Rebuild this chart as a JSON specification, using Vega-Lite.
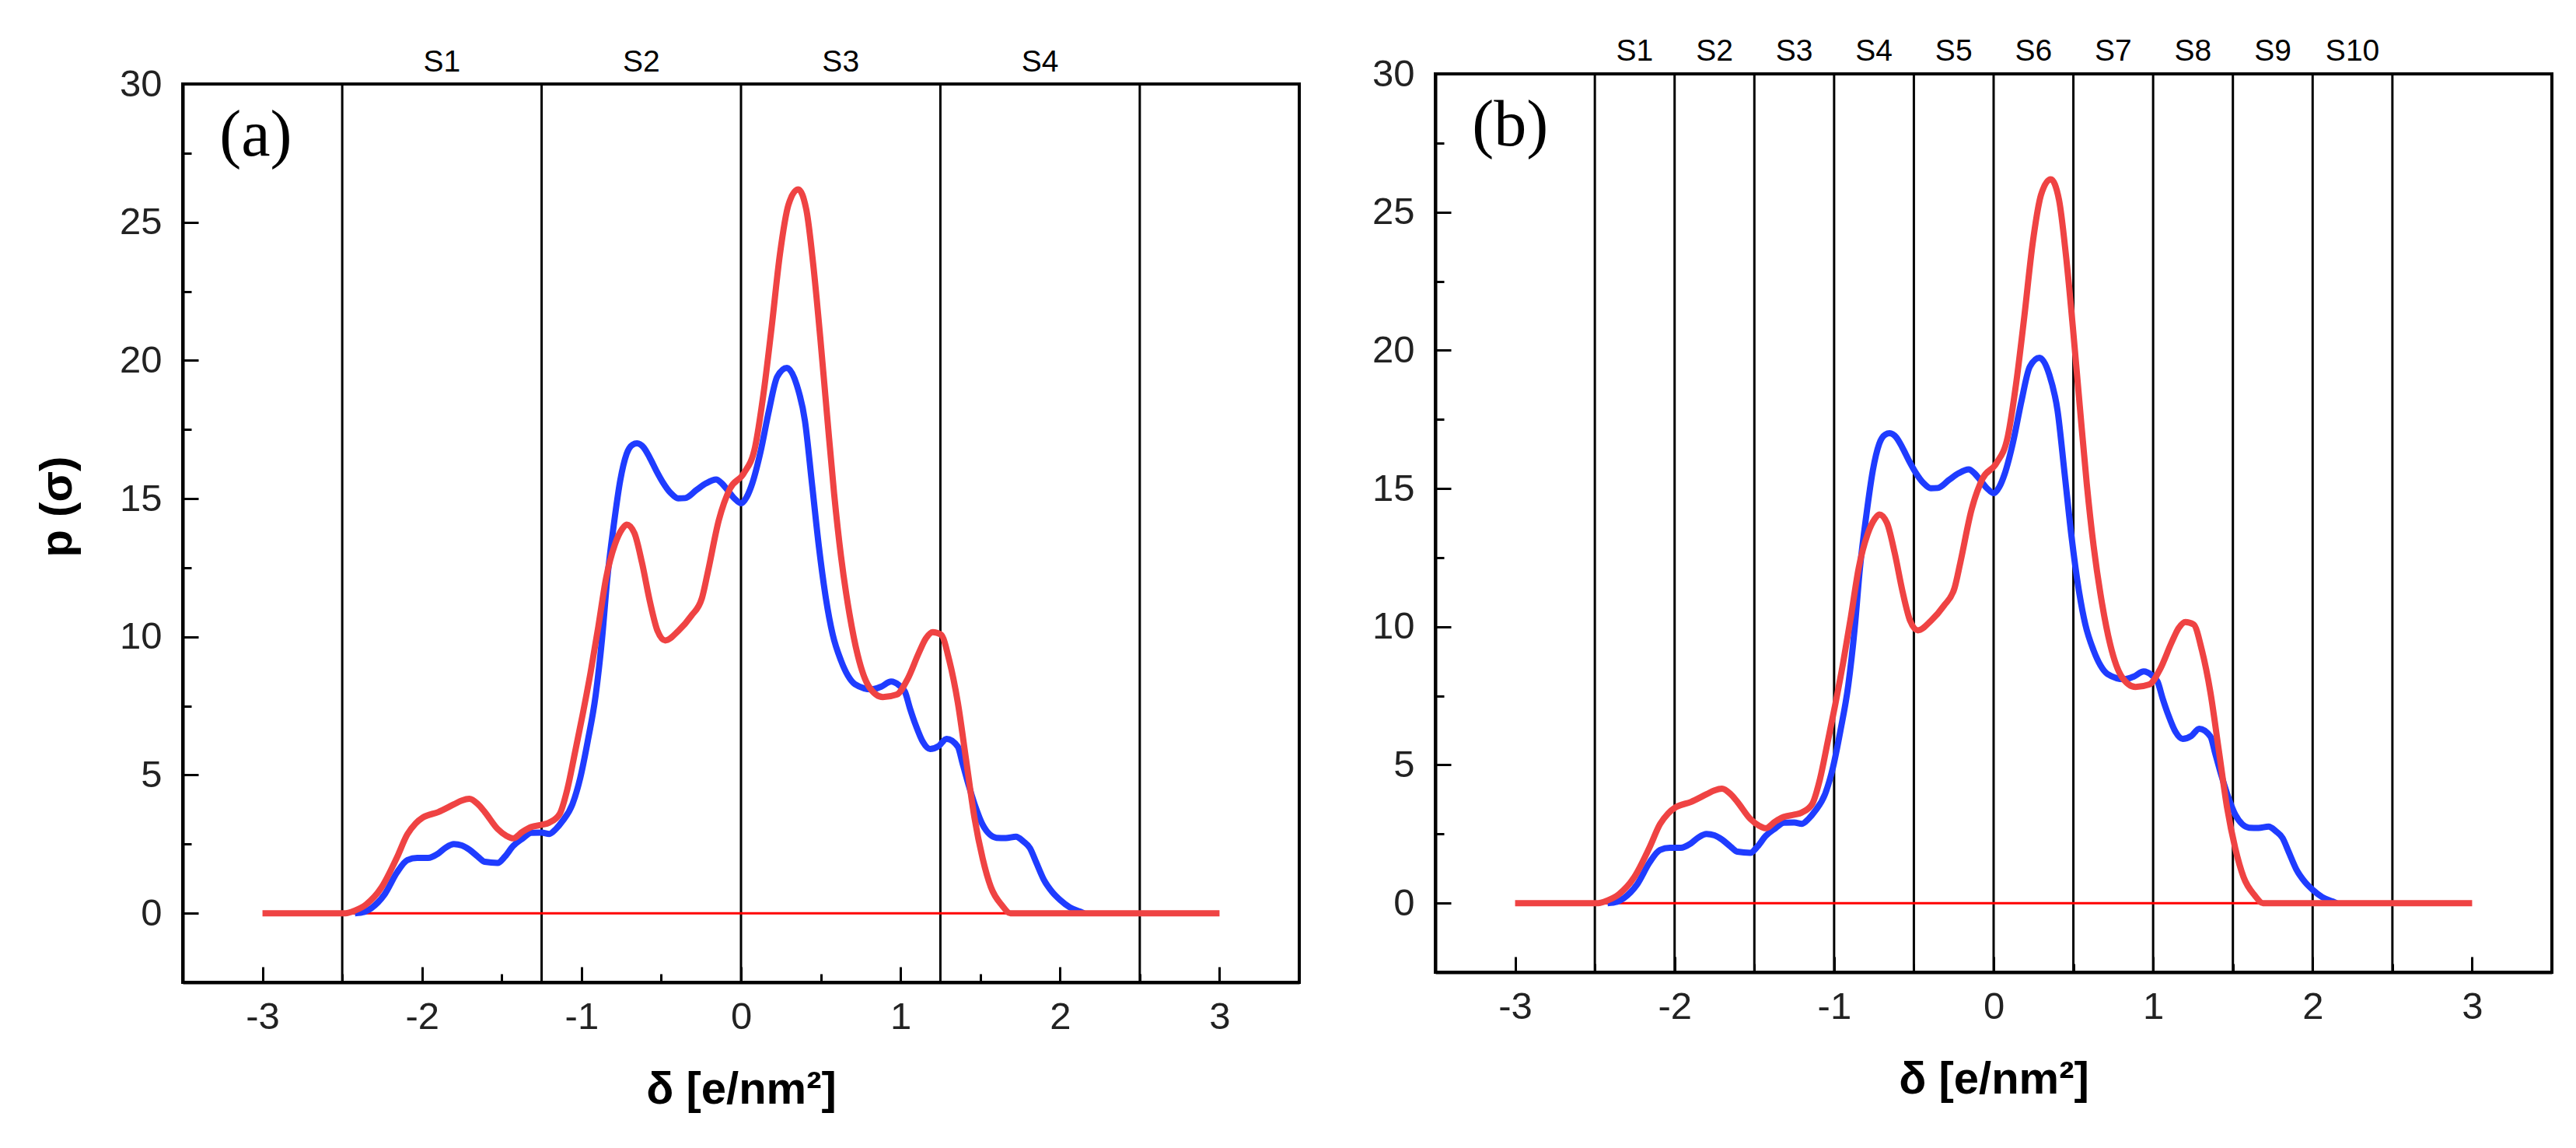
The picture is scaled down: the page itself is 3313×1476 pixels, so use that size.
{
  "$schema": "https://vega.github.io/schema/vega-lite/v6.json",
  "background": "white",
  "padding": {"left": 43, "top": 45, "right": 10, "bottom": 10},
  "spacing": 89,
  "config": {
    "view": {"stroke": "black", "strokeWidth": 4},
    "axis": {
      "grid": false,
      "domainColor": "black",
      "domainWidth": 4,
      "tickColor": "black",
      "tickWidth": 3,
      "labelFont": "Liberation Sans",
      "labelFontSize": 49,
      "labelColor": "#222222",
      "titleFont": "Liberation Sans",
      "titleFontSize": 58,
      "titleFontWeight": "bold",
      "titleColor": "black"
    },
    "text": {"font": "Liberation Sans"}
  },
  "datasets": {
    "blue": [
      {"d": -2.42, "p": 0}, {"d": -2.36, "p": 0.05}, {"d": -2.318, "p": 0.18}, {"d": -2.237, "p": 0.66},
      {"d": -2.156, "p": 1.48}, {"d": -2.092, "p": 1.92}, {"d": -2.03, "p": 2.0}, {"d": -1.962, "p": 2.0},
      {"d": -1.898, "p": 2.16}, {"d": -1.85, "p": 2.38}, {"d": -1.8, "p": 2.5}, {"d": -1.75, "p": 2.45},
      {"d": -1.703, "p": 2.3}, {"d": -1.65, "p": 2.05}, {"d": -1.606, "p": 1.86}, {"d": -1.526, "p": 1.82},
      {"d": -1.48, "p": 2.05}, {"d": -1.429, "p": 2.43}, {"d": -1.37, "p": 2.7}, {"d": -1.315, "p": 2.91},
      {"d": -1.25, "p": 2.92}, {"d": -1.202, "p": 2.87}, {"d": -1.16, "p": 3.05}, {"d": -1.121, "p": 3.32},
      {"d": -1.057, "p": 3.94}, {"d": -1.008, "p": 4.89}, {"d": -0.96, "p": 6.25}, {"d": -0.911, "p": 7.89},
      {"d": -0.871, "p": 9.94}, {"d": -0.838, "p": 12.12}, {"d": -0.798, "p": 14.03}, {"d": -0.757, "p": 15.66},
      {"d": -0.717, "p": 16.62}, {"d": -0.68, "p": 16.95}, {"d": -0.652, "p": 17.0}, {"d": -0.61, "p": 16.85},
      {"d": -0.572, "p": 16.48}, {"d": -0.53, "p": 16.0}, {"d": -0.491, "p": 15.6}, {"d": -0.44, "p": 15.2},
      {"d": -0.394, "p": 15.01}, {"d": -0.35, "p": 15.02}, {"d": -0.278, "p": 15.32}, {"d": -0.22, "p": 15.55},
      {"d": -0.156, "p": 15.69}, {"d": -0.12, "p": 15.55}, {"d": -0.086, "p": 15.32}, {"d": -0.04, "p": 15.0},
      {"d": 0.001, "p": 14.83}, {"d": 0.035, "p": 15.05}, {"d": 0.07, "p": 15.54}, {"d": 0.122, "p": 16.68},
      {"d": 0.175, "p": 18.18}, {"d": 0.227, "p": 19.41}, {"d": 0.288, "p": 19.73}, {"d": 0.349, "p": 19.12},
      {"d": 0.401, "p": 17.81}, {"d": 0.445, "p": 15.54}, {"d": 0.488, "p": 13.28}, {"d": 0.532, "p": 11.4},
      {"d": 0.575, "p": 10.08}, {"d": 0.627, "p": 9.14}, {"d": 0.67, "p": 8.6}, {"d": 0.714, "p": 8.29},
      {"d": 0.819, "p": 8.1}, {"d": 0.88, "p": 8.2}, {"d": 0.941, "p": 8.38}, {"d": 0.99, "p": 8.25},
      {"d": 1.028, "p": 8.01}, {"d": 1.06, "p": 7.4}, {"d": 1.097, "p": 6.78}, {"d": 1.14, "p": 6.2},
      {"d": 1.185, "p": 5.94}, {"d": 1.24, "p": 6.05}, {"d": 1.289, "p": 6.31}, {"d": 1.359, "p": 6.03},
      {"d": 1.39, "p": 5.4}, {"d": 1.428, "p": 4.62}, {"d": 1.47, "p": 3.85}, {"d": 1.515, "p": 3.2},
      {"d": 1.56, "p": 2.85}, {"d": 1.602, "p": 2.73}, {"d": 1.66, "p": 2.72}, {"d": 1.724, "p": 2.77},
      {"d": 1.77, "p": 2.6}, {"d": 1.811, "p": 2.36}, {"d": 1.85, "p": 1.85}, {"d": 1.898, "p": 1.22},
      {"d": 1.95, "p": 0.78}, {"d": 2.003, "p": 0.47}, {"d": 2.06, "p": 0.22}, {"d": 2.125, "p": 0.06},
      {"d": 2.15, "p": 0}
    ],
    "red": [
      {"d": -3, "p": 0}, {"d": -2.48, "p": 0}, {"d": -2.42, "p": 0.1}, {"d": -2.35, "p": 0.32},
      {"d": -2.253, "p": 0.94}, {"d": -2.156, "p": 2.03}, {"d": -2.092, "p": 2.85}, {"d": -2.04, "p": 3.25},
      {"d": -1.995, "p": 3.46}, {"d": -1.898, "p": 3.66}, {"d": -1.8, "p": 3.94}, {"d": -1.75, "p": 4.08},
      {"d": -1.703, "p": 4.14}, {"d": -1.65, "p": 3.95}, {"d": -1.606, "p": 3.66}, {"d": -1.526, "p": 3.05},
      {"d": -1.47, "p": 2.8}, {"d": -1.429, "p": 2.71}, {"d": -1.37, "p": 2.95}, {"d": -1.315, "p": 3.12},
      {"d": -1.25, "p": 3.2}, {"d": -1.202, "p": 3.28}, {"d": -1.137, "p": 3.59}, {"d": -1.089, "p": 4.48},
      {"d": -1.04, "p": 5.84}, {"d": -0.992, "p": 7.21}, {"d": -0.943, "p": 8.71}, {"d": -0.895, "p": 10.35},
      {"d": -0.846, "p": 12.12}, {"d": -0.79, "p": 13.35}, {"d": -0.745, "p": 13.9}, {"d": -0.717, "p": 14.06},
      {"d": -0.669, "p": 13.76}, {"d": -0.62, "p": 12.66}, {"d": -0.572, "p": 11.3}, {"d": -0.523, "p": 10.21},
      {"d": -0.475, "p": 9.87}, {"d": -0.394, "p": 10.21}, {"d": -0.313, "p": 10.75}, {"d": -0.245, "p": 11.4},
      {"d": -0.208, "p": 12.34}, {"d": -0.139, "p": 14.22}, {"d": -0.069, "p": 15.36}, {"d": 0.018, "p": 15.92},
      {"d": 0.088, "p": 16.86}, {"d": 0.14, "p": 18.75}, {"d": 0.192, "p": 21.2}, {"d": 0.244, "p": 23.84},
      {"d": 0.297, "p": 25.62}, {"d": 0.358, "p": 26.19}, {"d": 0.41, "p": 25.44}, {"d": 0.453, "p": 23.46},
      {"d": 0.497, "p": 20.82}, {"d": 0.54, "p": 17.99}, {"d": 0.584, "p": 15.17}, {"d": 0.627, "p": 12.91},
      {"d": 0.68, "p": 10.83}, {"d": 0.732, "p": 9.33}, {"d": 0.802, "p": 8.2}, {"d": 0.889, "p": 7.82},
      {"d": 0.976, "p": 7.91}, {"d": 1.045, "p": 8.48}, {"d": 1.115, "p": 9.42}, {"d": 1.16, "p": 9.95},
      {"d": 1.202, "p": 10.17}, {"d": 1.254, "p": 10.08}, {"d": 1.306, "p": 9.14}, {"d": 1.359, "p": 7.63},
      {"d": 1.411, "p": 5.56}, {"d": 1.463, "p": 3.48}, {"d": 1.515, "p": 1.98}, {"d": 1.567, "p": 0.94},
      {"d": 1.637, "p": 0.28}, {"d": 1.689, "p": 0}, {"d": 3, "p": 0}
    ],
    "sepA": [{"x": -2.5}, {"x": -1.25}, {"x": 0}, {"x": 1.25}, {"x": 2.5}],
    "labA": [
      {"x": -1.875, "label": "S1"}, {"x": -0.625, "label": "S2"},
      {"x": 0.625, "label": "S3"}, {"x": 1.875, "label": "S4"}
    ],
    "sepB": [
      {"x": -2.5}, {"x": -2}, {"x": -1.5}, {"x": -1}, {"x": -0.5}, {"x": 0},
      {"x": 0.5}, {"x": 1}, {"x": 1.5}, {"x": 2}, {"x": 2.5}
    ],
    "labB": [
      {"x": -2.25, "label": "S1"}, {"x": -1.75, "label": "S2"}, {"x": -1.25, "label": "S3"},
      {"x": -0.75, "label": "S4"}, {"x": -0.25, "label": "S5"}, {"x": 0.25, "label": "S6"},
      {"x": 0.75, "label": "S7"}, {"x": 1.25, "label": "S8"}, {"x": 1.75, "label": "S9"},
      {"x": 2.25, "label": "S10"}
    ],
    "base": [{"x1": -2.5, "x2": 2.5, "y": 0}],
    "tagA": [{"x": -3.27, "y": 27.4, "label": "(a)"}],
    "tagB": [{"x": -3.27, "y": 27.4, "label": "(b)"}]
  },
  "hconcat": [
    {
      "vconcat": [
        {
          "width": 1436,
          "height": 1,
          "view": {"stroke": null},
          "data": {"values": []},
          "mark": "point"
        },
        {
          "width": 1436,
          "height": 1155,
          "resolve": {"axis": {"x": "independent", "y": "independent"}},
          "layer": [
            {
              "data": {"name": "sepA"},
              "mark": {"type": "rule", "color": "black", "strokeWidth": 3},
              "encoding": {
                "x": {"field": "x", "type": "quantitative",
                  "scale": {"domain": [-3.5, 3.5], "nice": false, "zero": false},
                  "axis": {"orient": "bottom", "values": [-2.5, -1.5, -0.5, 0.5, 1.5, 2.5], "labels": false, "domain": false, "tickSize": -11, "title": null}}
              }
            },
            {
              "data": {"name": "base"},
              "mark": {"type": "rule", "color": "#ff0000", "strokeWidth": 3},
              "encoding": {
                "x": {"field": "x1", "type": "quantitative", "scale": {"domain": [-3.5, 3.5], "nice": false, "zero": false}, "axis": null},
                "x2": {"field": "x2"},
                "y": {"field": "y", "type": "quantitative",
                  "scale": {"domain": [-2.5, 30], "nice": false, "zero": false},
                  "axis": {"orient": "left", "values": [2.5, 7.5, 12.5, 17.5, 22.5, 27.5], "labels": false, "domain": false, "tickSize": -11, "title": null}}
              }
            },
            {
              "data": {"name": "blue"},
              "mark": {"type": "line", "color": "#1f3cff", "strokeWidth": 8, "interpolate": "monotone"},
              "encoding": {
                "x": {"field": "d", "type": "quantitative",
                  "scale": {"domain": [-3.5, 3.5], "nice": false, "zero": false},
                  "axis": {"orient": "bottom", "values": [-3, -2, -1, 0, 1, 2, 3], "labelExpr": "'' + datum.value", "tickSize": -20, "labelPadding": 40, "title": "δ [e/nm²]", "titlePadding": 40}},
                "y": {"field": "p", "type": "quantitative",
                  "scale": {"domain": [-2.5, 30], "nice": false, "zero": false},
                  "axis": {"orient": "left", "values": [0, 5, 10, 15, 20, 25, 30], "tickSize": -20, "labelPadding": 47, "title": "p (σ)", "titlePadding": 50, "titleY": 543}}
              }
            },
            {
              "data": {"name": "red"},
              "mark": {"type": "line", "color": "#ef4343", "strokeWidth": 8, "interpolate": "monotone"},
              "encoding": {
                "x": {"field": "d", "type": "quantitative", "scale": {"domain": [-3.5, 3.5], "nice": false, "zero": false}, "axis": null},
                "y": {"field": "p", "type": "quantitative", "scale": {"domain": [-2.5, 30], "nice": false, "zero": false}, "axis": null}
              }
            },
            {
              "data": {"name": "labA"},
              "mark": {"type": "text", "fontSize": 39, "color": "black", "align": "center", "baseline": "alphabetic", "dy": -16},
              "encoding": {
                "x": {"field": "x", "type": "quantitative", "scale": {"domain": [-3.5, 3.5], "nice": false, "zero": false}, "axis": null},
                "y": {"datum": 30, "type": "quantitative", "scale": {"domain": [-2.5, 30], "nice": false, "zero": false}, "axis": null},
                "text": {"field": "label"}
              }
            },
            {
              "data": {"name": "tagA"},
              "mark": {"type": "text", "font": "Liberation Serif", "fontSize": 84, "color": "black", "align": "left", "baseline": "alphabetic"},
              "encoding": {
                "x": {"field": "x", "type": "quantitative", "scale": {"domain": [-3.5, 3.5], "nice": false, "zero": false}, "axis": null},
                "y": {"field": "y", "type": "quantitative", "scale": {"domain": [-2.5, 30], "nice": false, "zero": false}, "axis": null},
                "text": {"field": "label"}
              }
            }
          ]
        }
      ],
      "spacing": 12,
      "bounds": "flush"
    },
    {
      "width": 1436,
      "height": 1155,
      "resolve": {"axis": {"x": "independent", "y": "independent"}},
      "layer": [
        {
          "data": {"name": "sepB"},
          "mark": {"type": "rule", "color": "black", "strokeWidth": 3},
          "encoding": {
            "x": {"field": "x", "type": "quantitative",
              "scale": {"domain": [-3.5, 3.5], "nice": false, "zero": false},
              "axis": {"orient": "bottom", "values": [-2.5, -1.5, -0.5, 0.5, 1.5, 2.5], "labels": false, "domain": false, "tickSize": -11, "title": null}}
          }
        },
        {
          "data": {"name": "base"},
          "mark": {"type": "rule", "color": "#ff0000", "strokeWidth": 3},
          "encoding": {
            "x": {"field": "x1", "type": "quantitative", "scale": {"domain": [-3.5, 3.5], "nice": false, "zero": false}, "axis": null},
            "x2": {"field": "x2"},
            "y": {"field": "y", "type": "quantitative",
              "scale": {"domain": [-2.5, 30], "nice": false, "zero": false},
              "axis": {"orient": "left", "values": [2.5, 7.5, 12.5, 17.5, 22.5, 27.5], "labels": false, "domain": false, "tickSize": -11, "title": null}}
          }
        },
        {
          "data": {"name": "blue"},
          "mark": {"type": "line", "color": "#1f3cff", "strokeWidth": 8, "interpolate": "monotone"},
          "encoding": {
            "x": {"field": "d", "type": "quantitative",
              "scale": {"domain": [-3.5, 3.5], "nice": false, "zero": false},
              "axis": {"orient": "bottom", "values": [-3, -2, -1, 0, 1, 2, 3], "labelExpr": "'' + datum.value", "tickSize": -20, "labelPadding": 40, "title": "δ [e/nm²]", "titlePadding": 40}},
            "y": {"field": "p", "type": "quantitative",
              "scale": {"domain": [-2.5, 30], "nice": false, "zero": false},
              "axis": {"orient": "left", "values": [0, 5, 10, 15, 20, 25, 30], "tickSize": -20, "labelPadding": 47, "title": null}}
          }
        },
        {
          "data": {"name": "red"},
          "mark": {"type": "line", "color": "#ef4343", "strokeWidth": 8, "interpolate": "monotone"},
          "encoding": {
            "x": {"field": "d", "type": "quantitative", "scale": {"domain": [-3.5, 3.5], "nice": false, "zero": false}, "axis": null},
            "y": {"field": "p", "type": "quantitative", "scale": {"domain": [-2.5, 30], "nice": false, "zero": false}, "axis": null}
          }
        },
        {
          "data": {"name": "labB"},
          "mark": {"type": "text", "fontSize": 39, "color": "black", "align": "center", "baseline": "alphabetic", "dy": -17},
          "encoding": {
            "x": {"field": "x", "type": "quantitative", "scale": {"domain": [-3.5, 3.5], "nice": false, "zero": false}, "axis": null},
            "y": {"datum": 30, "type": "quantitative", "scale": {"domain": [-2.5, 30], "nice": false, "zero": false}, "axis": null},
            "text": {"field": "label"}
          }
        },
        {
          "data": {"name": "tagB"},
          "mark": {"type": "text", "font": "Liberation Serif", "fontSize": 84, "color": "black", "align": "left", "baseline": "alphabetic"},
          "encoding": {
            "x": {"field": "x", "type": "quantitative", "scale": {"domain": [-3.5, 3.5], "nice": false, "zero": false}, "axis": null},
            "y": {"field": "y", "type": "quantitative", "scale": {"domain": [-2.5, 30], "nice": false, "zero": false}, "axis": null},
            "text": {"field": "label"}
          }
        }
      ]
    }
  ]
}
